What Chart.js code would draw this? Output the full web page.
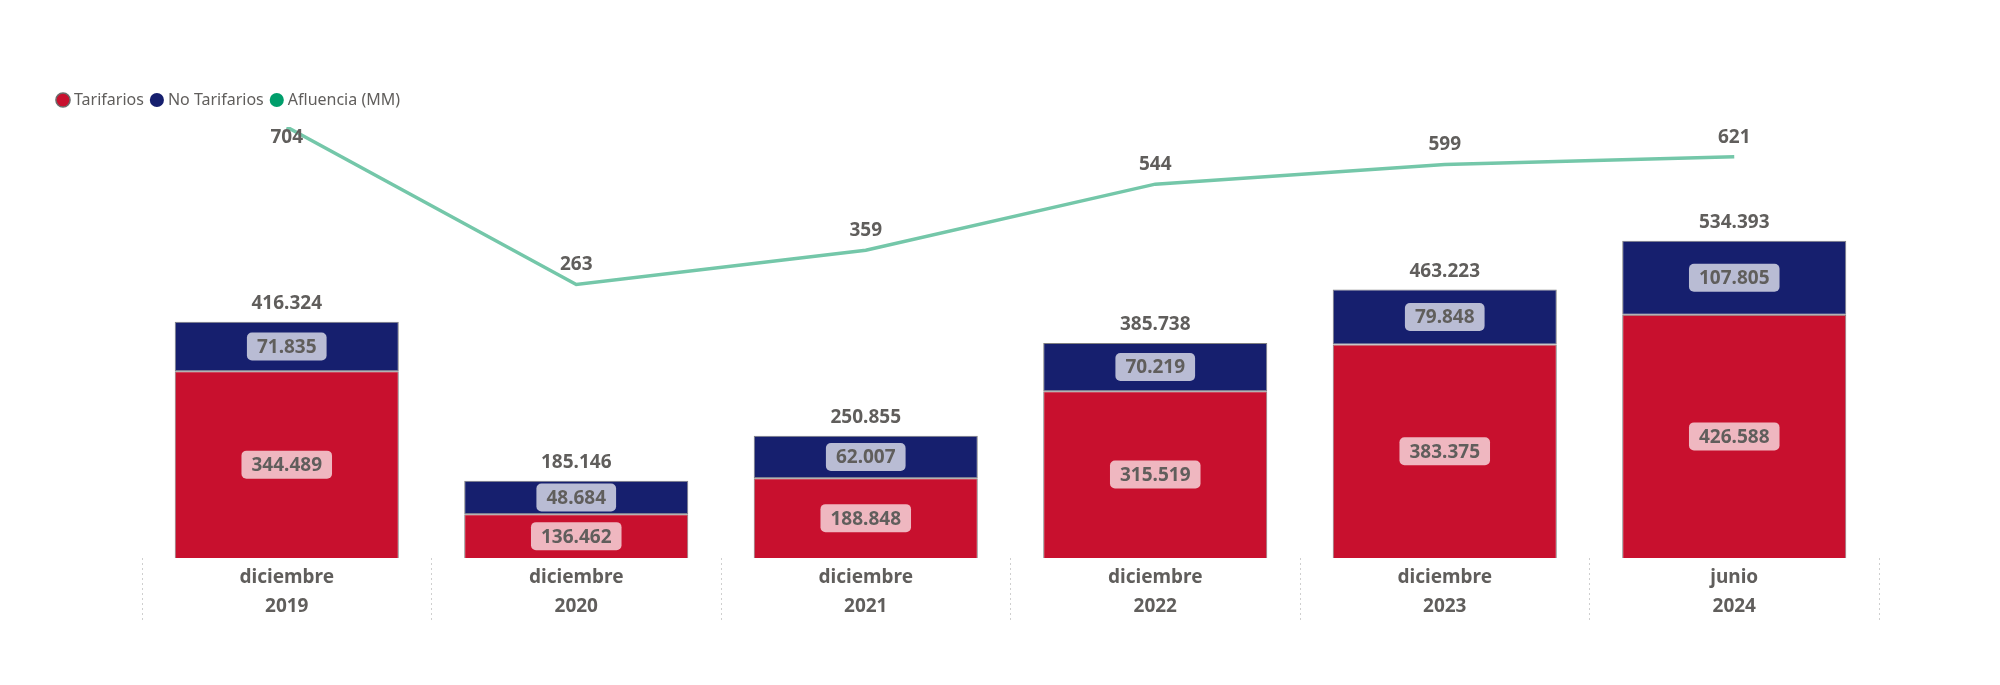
<!DOCTYPE html>
<html><head><meta charset="utf-8">
<script src="https://cdn.jsdelivr.net/npm/chart.js@4.4.0/dist/chart.umd.min.js"></script>
<style>html,body{margin:0;padding:0;background:#fff;}canvas{display:block}</style>
</head><body>
<canvas id="c" width="2000" height="685"></canvas>
<script>
const months = ['diciembre','diciembre','diciembre','diciembre','diciembre','junio'];
const years = ['2019','2020','2021','2022','2023','2024'];
const tarifarios = [344489,136462,188848,315519,383375,426588];
const noTarifarios = [71835,48684,62007,70219,79848,107805];
const afluencia = [704,263,359,544,599,621];
const seriesNames = ['Tarifarios','No Tarifarios','Afluencia (MM)'];

const FONT = '"Segoe UI", "Noto Sans", sans-serif';
const TXT = '#605E5C';
const RED = '#C8102E', NAVY = '#161F6E', GREEN_LINE = '#74C7A9', GREEN_DOT = '#009E6B';
const fmt = v => String(v).replace(/\B(?=(\d{3})+(?!\d))/g, '.');

const labelPlugin = {
  id: 'valueLabels',
  afterDatasetsDraw(chart) {
    const ctx = chart.ctx, area = chart.chartArea;
    ctx.save();
    ctx.font = 'bold 19px ' + FONT;
    ctx.textAlign = 'center';
    ctx.textBaseline = 'middle';
    [0, 1].forEach(di => {
      const meta = chart.getDatasetMeta(di);
      meta.data.forEach((el, i) => {
        const txt = fmt(chart.data.datasets[di].data[i]);
        const bottom = Math.min(el.base, area.bottom);
        const top = Math.max(el.y, area.top);
        const cx = el.x, cy = (top + bottom) / 2;
        const w = ctx.measureText(txt).width + 20, h = 28;
        ctx.fillStyle = 'rgba(255,255,255,0.7)';
        ctx.beginPath();
        ctx.roundRect(cx - w / 2, cy - h / 2, w, h, 5);
        ctx.fill();
        ctx.fillStyle = TXT;
        ctx.fillText(txt, cx, cy + 1);
      });
    });
    const topMeta = chart.getDatasetMeta(1);
    topMeta.data.forEach((el, i) => {
      ctx.fillStyle = TXT;
      ctx.fillText(fmt(tarifarios[i] + noTarifarios[i]), el.x, el.y - 18.5);
    });
    const lm = chart.getDatasetMeta(2);
    lm.data.forEach((el, i) => {
      let y = el.y - 20;
      if (y < area.top + 11) y = area.top + 11;
      ctx.fillStyle = TXT;
      ctx.fillText(String(afluencia[i]), el.x, y);
    });
    ctx.restore();
  }
};

const legendFitPlugin = {
  id: 'legendFit',
  beforeLayout(chart) {
    const lg = chart.legend;
    if (lg && !lg._patched) {
      const orig = lg.fit;
      lg.fit = function () { orig.apply(this, arguments); this.height = 45; };
      lg._patched = true;
    }
  }
};

const markerColors = [RED, NAVY, GREEN_DOT];

new Chart(document.getElementById('c'), {
  type: 'bar',
  data: {
    labels: months.map((m, i) => [m, years[i]]),
    datasets: [
      { label: seriesNames[0], data: tarifarios, backgroundColor: RED, borderColor: '#808080', borderWidth: 1, borderSkipped: false, yAxisID: 'y', stack: 's', barPercentage: 0.774, categoryPercentage: 1, order: 2 },
      { label: seriesNames[1], data: noTarifarios, backgroundColor: NAVY, borderColor: '#808080', borderWidth: 1, borderSkipped: false, yAxisID: 'y', stack: 's', barPercentage: 0.774, categoryPercentage: 1, order: 2 },
      { type: 'line', label: seriesNames[2], data: afluencia, borderColor: GREEN_LINE, backgroundColor: GREEN_LINE, borderWidth: 3.5, pointRadius: 0, tension: 0, yAxisID: 'y2', order: 1 }
    ]
  },
  options: {
    responsive: false,
    animation: false,
    devicePixelRatio: 1,
    layout: { padding: { left: 50, right: 0, top: 82, bottom: 0 } },
    plugins: {
      tooltip: { enabled: false },
      legend: {
        position: 'top', align: 'start',
        labels: {
          usePointStyle: true, pointStyle: 'circle', boxWidth: 6, boxHeight: 10, padding: 10,
          color: TXT, font: { size: 16, family: FONT },
          generateLabels: () => seriesNames.map((n, i) => ({
            text: n, fillStyle: markerColors[i], strokeStyle: i === 0 ? '#6b6b6b' : markerColors[i],
            lineWidth: i === 0 ? 1.5 : 0, pointStyle: 'circle', hidden: false, datasetIndex: i, fontColor: TXT
          }))
        }
      }
    },
    scales: {
      x: {
        stacked: true,
        grid: { display: true, drawOnChartArea: false, drawTicks: true, tickLength: 63, tickColor: '#cfcfcf', tickWidth: 1, tickBorderDash: [2, 3], offset: true },
        border: { display: false },
        ticks: { padding: -57.5, color: TXT, font: { size: 19, weight: 'bold', family: FONT, lineHeight: 1.5 }, maxRotation: 0, autoSkip: false },
        afterFit: s => { s.height = 127; }
      },
      y: {
        stacked: true, min: 72900, max: 699700,
        grid: { display: false }, border: { display: false }, ticks: { display: false },
        afterFit: s => { s.width = 92; }
      },
      y2: {
        position: 'right', min: -503, max: 704,
        grid: { display: false }, border: { display: false }, ticks: { display: false },
        afterFit: s => { s.width = 121; }
      }
    }
  },
  plugins: [legendFitPlugin, labelPlugin]
});
</script>
</body></html>
